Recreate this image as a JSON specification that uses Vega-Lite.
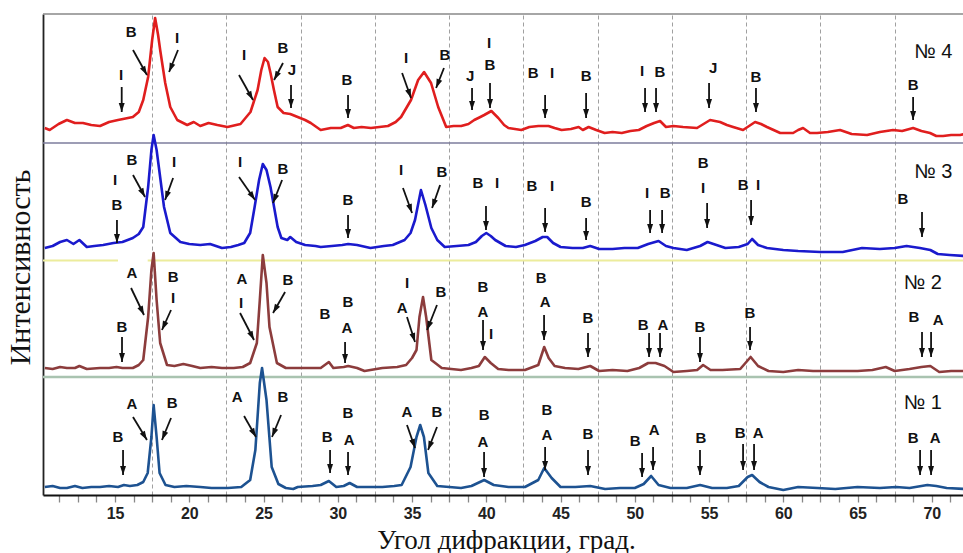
{
  "$schema": "https://vega.github.io/schema/vega-lite/v6.json",
  "width": 920,
  "height": 481,
  "autosize": {"type": "none"},
  "padding": {"left": 43, "top": 14, "right": 0, "bottom": 58},
  "background": "white",
  "config": {"view": {"stroke": null}},
  "resolve": {"axis": {"x": "independent"}},
  "datasets": {
    "c4": [{"x":10.27,"y":367},{"x":10.6,"y":365},{"x":11.2,"y":371},{"x":11.76,"y":375},{"x":12.3,"y":372},{"x":12.84,"y":372},{"x":13.4,"y":370},{"x":13.99,"y":369},{"x":14.6,"y":373},{"x":15.2,"y":375},{"x":15.54,"y":376},{"x":16.2,"y":378},{"x":16.6,"y":383},{"x":16.9,"y":395},{"x":17.23,"y":418},{"x":17.5,"y":455},{"x":17.7,"y":477},{"x":17.9,"y":460},{"x":18.04,"y":445},{"x":18.38,"y":412},{"x":18.72,"y":388},{"x":19.19,"y":375},{"x":19.86,"y":370},{"x":20.3,"y":373},{"x":20.74,"y":369},{"x":21.3,"y":372},{"x":21.89,"y":370},{"x":22.57,"y":368},{"x":23.45,"y":371},{"x":24.12,"y":383},{"x":24.6,"y":405},{"x":24.85,"y":425},{"x":25.07,"y":437},{"x":25.3,"y":433},{"x":25.47,"y":422},{"x":25.7,"y":405},{"x":25.95,"y":388},{"x":26.35,"y":382},{"x":26.8,"y":381},{"x":27.3,"y":378},{"x":27.8,"y":375},{"x":28.18,"y":372},{"x":28.85,"y":365},{"x":29.53,"y":367},{"x":30.2,"y":367},{"x":30.68,"y":370},{"x":31.08,"y":367},{"x":31.6,"y":368},{"x":32.23,"y":367},{"x":32.8,"y":368},{"x":33.38,"y":369},{"x":33.9,"y":373},{"x":34.26,"y":378},{"x":34.93,"y":395},{"x":35.41,"y":415},{"x":35.81,"y":423},{"x":36.28,"y":412},{"x":36.76,"y":388},{"x":37.3,"y":368},{"x":37.8,"y":369},{"x":38.31,"y":369},{"x":38.8,"y":371},{"x":39.19,"y":375},{"x":39.6,"y":378},{"x":39.86,"y":380},{"x":40.34,"y":384},{"x":40.81,"y":377},{"x":41.2,"y":370},{"x":41.49,"y":367},{"x":42.36,"y":365},{"x":42.9,"y":368},{"x":43.51,"y":369},{"x":44.19,"y":369},{"x":44.6,"y":367},{"x":45.07,"y":365},{"x":45.7,"y":366},{"x":46.22,"y":368},{"x":46.5,"y":365},{"x":46.89,"y":368},{"x":47.4,"y":365},{"x":47.97,"y":362},{"x":48.5,"y":363},{"x":49.12,"y":362},{"x":49.7,"y":364},{"x":50.27,"y":365},{"x":50.8,"y":369},{"x":51.3,"y":372},{"x":51.7,"y":374},{"x":52.1,"y":368},{"x":52.6,"y":369},{"x":53.25,"y":368},{"x":54.19,"y":367},{"x":55.07,"y":375},{"x":55.4,"y":374},{"x":55.74,"y":373},{"x":56.2,"y":370},{"x":56.62,"y":368},{"x":57.29,"y":365},{"x":58.1,"y":373},{"x":58.5,"y":371},{"x":58.9,"y":368},{"x":59.79,"y":362},{"x":60.66,"y":362},{"x":61.0,"y":365},{"x":61.33,"y":367},{"x":61.8,"y":362},{"x":62.27,"y":362},{"x":63.0,"y":363},{"x":63.82,"y":365},{"x":64.6,"y":361},{"x":65.64,"y":360},{"x":66.5,"y":363},{"x":67.39,"y":365},{"x":68.0,"y":364},{"x":68.74,"y":367},{"x":69.3,"y":364},{"x":69.88,"y":362},{"x":70.3,"y":359},{"x":70.76,"y":359},{"x":71.3,"y":360},{"x":71.9,"y":360},{"x":72.2,"y":361}],
    "c3": [{"x":10.27,"y":247},{"x":10.8,"y":249},{"x":11.3,"y":253},{"x":11.76,"y":255},{"x":12.2,"y":251},{"x":12.6,"y":255},{"x":13.1,"y":248},{"x":13.6,"y":249},{"x":14.2,"y":250},{"x":14.9,"y":252},{"x":15.5,"y":253},{"x":16.2,"y":257},{"x":16.6,"y":261},{"x":16.9,"y":268},{"x":17.23,"y":308},{"x":17.45,"y":345},{"x":17.6,"y":360},{"x":17.8,"y":345},{"x":17.95,"y":328},{"x":18.3,"y":288},{"x":18.72,"y":262},{"x":19.4,"y":253},{"x":20.0,"y":251},{"x":20.74,"y":250},{"x":21.4,"y":251},{"x":22.2,"y":247},{"x":22.8,"y":248},{"x":23.3,"y":250},{"x":23.7,"y":252},{"x":24.1,"y":262},{"x":24.4,"y":288},{"x":24.7,"y":315},{"x":24.95,"y":331},{"x":25.2,"y":325},{"x":25.47,"y":308},{"x":25.95,"y":268},{"x":26.2,"y":257},{"x":26.6,"y":255},{"x":26.8,"y":258},{"x":27.2,"y":253},{"x":27.8,"y":250},{"x":28.5,"y":249},{"x":28.85,"y":248},{"x":29.6,"y":249},{"x":30.3,"y":250},{"x":30.7,"y":251},{"x":31.3,"y":250},{"x":32.2,"y":247},{"x":33.1,"y":249},{"x":33.7,"y":250},{"x":34.5,"y":255},{"x":34.9,"y":262},{"x":35.2,"y":275},{"x":35.6,"y":305},{"x":35.9,"y":290},{"x":36.3,"y":267},{"x":36.7,"y":255},{"x":37.2,"y":248},{"x":38.0,"y":249},{"x":38.8,"y":250},{"x":39.3,"y":253},{"x":39.7,"y":259},{"x":40.0,"y":262},{"x":40.3,"y":259},{"x":40.6,"y":255},{"x":41.3,"y":249},{"x":42.0,"y":248},{"x":42.6,"y":250},{"x":43.3,"y":254},{"x":43.8,"y":258},{"x":44.1,"y":258},{"x":44.5,"y":252},{"x":45.0,"y":248},{"x":45.8,"y":247},{"x":46.5,"y":247},{"x":47.0,"y":249},{"x":47.6,"y":246},{"x":48.5,"y":246},{"x":49.3,"y":247},{"x":50.2,"y":247},{"x":50.9,"y":251},{"x":51.6,"y":254},{"x":52.1,"y":249},{"x":52.6,"y":247},{"x":53.5,"y":245},{"x":54.4,"y":249},{"x":54.9,"y":253},{"x":55.5,"y":250},{"x":56.1,"y":247},{"x":57.0,"y":248},{"x":57.6,"y":251},{"x":57.9,"y":256},{"x":58.3,"y":250},{"x":58.9,"y":247},{"x":60.0,"y":245},{"x":61.0,"y":244},{"x":62.5,"y":243},{"x":64.0,"y":243},{"x":65.3,"y":247},{"x":66.5,"y":246},{"x":67.5,"y":247},{"x":68.3,"y":249},{"x":69.2,"y":247},{"x":69.9,"y":245},{"x":70.4,"y":241},{"x":71.2,"y":240},{"x":72.2,"y":239}],
    "c2": [{"x":10.27,"y":127},{"x":10.8,"y":126},{"x":11.3,"y":128},{"x":11.76,"y":127},{"x":12.3,"y":127},{"x":12.6,"y":129},{"x":13.1,"y":126},{"x":13.99,"y":127},{"x":14.6,"y":127},{"x":15.1,"y":128},{"x":15.5,"y":127},{"x":16.2,"y":127},{"x":16.6,"y":130},{"x":16.9,"y":135},{"x":17.23,"y":178},{"x":17.45,"y":225},{"x":17.6,"y":242},{"x":17.8,"y":195},{"x":18.04,"y":152},{"x":18.5,"y":130},{"x":19.0,"y":129},{"x":19.6,"y":131},{"x":20.2,"y":129},{"x":20.74,"y":127},{"x":21.5,"y":128},{"x":22.2,"y":127},{"x":23.0,"y":127},{"x":23.6,"y":128},{"x":24.1,"y":132},{"x":24.55,"y":152},{"x":24.75,"y":195},{"x":24.95,"y":240},{"x":25.2,"y":212},{"x":25.4,"y":168},{"x":25.9,"y":132},{"x":26.5,"y":127},{"x":27.3,"y":127},{"x":28.2,"y":127},{"x":28.85,"y":127},{"x":29.4,"y":133},{"x":29.7,"y":127},{"x":30.4,"y":128},{"x":30.7,"y":129},{"x":31.3,"y":127},{"x":31.8,"y":124},{"x":33.0,"y":127},{"x":34.0,"y":128},{"x":34.6,"y":130},{"x":35.0,"y":137},{"x":35.3,"y":145},{"x":35.5,"y":178},{"x":35.74,"y":198},{"x":35.95,"y":178},{"x":36.3,"y":135},{"x":37.0,"y":127},{"x":38.3,"y":125},{"x":39.0,"y":127},{"x":39.5,"y":129},{"x":39.9,"y":138},{"x":40.3,"y":132},{"x":40.8,"y":126},{"x":41.5,"y":125},{"x":42.6,"y":125},{"x":43.5,"y":130},{"x":43.9,"y":148},{"x":44.2,"y":137},{"x":44.6,"y":129},{"x":45.3,"y":127},{"x":46.2,"y":126},{"x":47.0,"y":129},{"x":47.6,"y":124},{"x":48.5,"y":125},{"x":49.5,"y":124},{"x":50.3,"y":127},{"x":50.9,"y":132},{"x":51.4,"y":132},{"x":52.0,"y":129},{"x":52.6,"y":123},{"x":53.5,"y":124},{"x":54.2,"y":125},{"x":54.6,"y":130},{"x":55.1,"y":125},{"x":55.9,"y":125},{"x":57.1,"y":126},{"x":57.8,"y":138},{"x":58.3,"y":129},{"x":59.0,"y":124},{"x":60.0,"y":123},{"x":61.0,"y":125},{"x":62.0,"y":124},{"x":63.0,"y":124},{"x":64.0,"y":124},{"x":65.0,"y":124},{"x":66.0,"y":125},{"x":66.9,"y":128},{"x":67.5,"y":124},{"x":68.5,"y":126},{"x":69.3,"y":128},{"x":69.9,"y":129},{"x":70.5,"y":123},{"x":71.3,"y":124},{"x":72.2,"y":124}],
    "c1": [{"x":10.27,"y":8},{"x":10.8,"y":9},{"x":11.3,"y":7},{"x":11.76,"y":7},{"x":12.3,"y":9},{"x":12.8,"y":7},{"x":13.4,"y":8},{"x":13.99,"y":8},{"x":14.6,"y":9},{"x":15.2,"y":8},{"x":15.6,"y":10},{"x":16.0,"y":9},{"x":16.5,"y":10},{"x":16.9,"y":13},{"x":17.2,"y":22},{"x":17.45,"y":58},{"x":17.6,"y":90},{"x":17.8,"y":58},{"x":18.0,"y":22},{"x":18.4,"y":10},{"x":19.0,"y":8},{"x":19.8,"y":9},{"x":20.74,"y":8},{"x":21.5,"y":7},{"x":22.6,"y":7},{"x":23.5,"y":8},{"x":24.1,"y":15},{"x":24.45,"y":45},{"x":24.75,"y":112},{"x":24.9,"y":127},{"x":25.2,"y":95},{"x":25.55,"y":28},{"x":26.0,"y":11},{"x":26.5,"y":7},{"x":27.0,"y":6},{"x":27.3,"y":8},{"x":28.3,"y":9},{"x":28.85,"y":10},{"x":29.4,"y":14},{"x":29.9,"y":8},{"x":30.4,"y":9},{"x":30.8,"y":12},{"x":31.3,"y":8},{"x":32.2,"y":8},{"x":33.0,"y":8},{"x":33.8,"y":9},{"x":34.3,"y":10},{"x":34.9,"y":28},{"x":35.3,"y":58},{"x":35.55,"y":70},{"x":35.8,"y":58},{"x":36.1,"y":22},{"x":36.7,"y":9},{"x":37.5,"y":8},{"x":38.3,"y":7},{"x":39.0,"y":9},{"x":39.86,"y":15},{"x":40.5,"y":10},{"x":41.5,"y":8},{"x":42.6,"y":8},{"x":43.5,"y":15},{"x":43.9,"y":27},{"x":44.4,"y":17},{"x":45.0,"y":8},{"x":46.0,"y":8},{"x":47.0,"y":9},{"x":48.0,"y":6},{"x":49.0,"y":7},{"x":50.0,"y":7},{"x":50.6,"y":11},{"x":51.1,"y":19},{"x":51.6,"y":10},{"x":52.4,"y":7},{"x":53.5,"y":7},{"x":54.4,"y":10},{"x":55.2,"y":7},{"x":56.2,"y":7},{"x":57.0,"y":9},{"x":57.6,"y":18},{"x":57.9,"y":20},{"x":58.4,"y":13},{"x":59.0,"y":8},{"x":60.0,"y":5},{"x":61.0,"y":8},{"x":62.3,"y":7},{"x":63.5,"y":6},{"x":65.0,"y":8},{"x":66.5,"y":7},{"x":67.6,"y":8},{"x":68.5,"y":7},{"x":69.7,"y":10},{"x":70.3,"y":9},{"x":71.0,"y":7},{"x":72.2,"y":6}],
    "labels": [
      {"x":15.4,"y":420,"t":"I"},{"x":16.08,"y":463,"t":"B"},{"x":19.18,"y":457,"t":"I"},{"x":23.69,"y":440,"t":"I"},{"x":26.31,"y":447,"t":"B"},{"x":26.92,"y":425,"t":"J"},{"x":30.62,"y":415,"t":"B"},{"x":34.6,"y":437,"t":"I"},{"x":37.22,"y":440,"t":"B"},{"x":38.91,"y":419,"t":"J"},{"x":40.19,"y":452,"t":"I"},{"x":40.25,"y":430,"t":"B"},{"x":43.15,"y":422,"t":"B"},{"x":44.43,"y":422,"t":"I"},{"x":46.72,"y":419,"t":"B"},{"x":50.49,"y":424,"t":"I"},{"x":51.7,"y":423,"t":"B"},{"x":55.27,"y":427,"t":"J"},{"x":58.16,"y":418,"t":"B"},{"x":68.74,"y":410,"t":"B"},
      {"x":15.0,"y":315,"t":"I"},{"x":15.13,"y":290,"t":"B"},{"x":16.14,"y":335,"t":"B"},{"x":18.97,"y":333,"t":"I"},{"x":23.42,"y":333,"t":"I"},{"x":26.31,"y":326,"t":"B"},{"x":30.69,"y":295,"t":"B"},{"x":34.26,"y":325,"t":"I"},{"x":37.02,"y":323,"t":"B"},{"x":39.44,"y":312,"t":"B"},{"x":40.72,"y":312,"t":"I"},{"x":43.08,"y":309,"t":"B"},{"x":44.43,"y":309,"t":"I"},{"x":46.72,"y":293,"t":"B"},{"x":50.82,"y":302,"t":"I"},{"x":52.04,"y":302,"t":"B"},{"x":54.6,"y":332,"t":"B"},{"x":54.6,"y":307,"t":"I"},{"x":57.29,"y":310,"t":"B"},{"x":58.3,"y":310,"t":"I"},{"x":68.06,"y":296,"t":"B"},
      {"x":15.47,"y":168,"t":"B"},{"x":16.14,"y":222,"t":"A"},{"x":18.91,"y":218,"t":"B"},{"x":18.91,"y":197,"t":"I"},{"x":23.55,"y":216,"t":"A"},{"x":23.48,"y":192,"t":"I"},{"x":26.65,"y":215,"t":"B"},{"x":29.14,"y":181,"t":"B"},{"x":30.69,"y":193,"t":"B"},{"x":30.62,"y":167,"t":"A"},{"x":34.66,"y":212,"t":"I"},{"x":34.33,"y":187,"t":"A"},{"x":36.95,"y":203,"t":"B"},{"x":39.78,"y":208,"t":"B"},{"x":39.78,"y":183,"t":"A"},{"x":40.32,"y":161,"t":"I"},{"x":43.69,"y":217,"t":"B"},{"x":43.96,"y":193,"t":"A"},{"x":46.85,"y":177,"t":"B"},{"x":50.56,"y":170,"t":"B"},{"x":51.9,"y":170,"t":"A"},{"x":54.39,"y":168,"t":"B"},{"x":57.76,"y":182,"t":"B"},{"x":68.8,"y":178,"t":"B"},{"x":70.42,"y":175,"t":"A"},
      {"x":15.2,"y":58,"t":"B"},{"x":16.14,"y":91,"t":"A"},{"x":18.84,"y":92,"t":"B"},{"x":23.22,"y":98,"t":"A"},{"x":26.31,"y":98,"t":"B"},{"x":29.28,"y":58,"t":"B"},{"x":30.69,"y":82,"t":"B"},{"x":30.76,"y":55,"t":"A"},{"x":34.66,"y":83,"t":"A"},{"x":36.68,"y":83,"t":"B"},{"x":39.85,"y":80,"t":"B"},{"x":39.78,"y":53,"t":"A"},{"x":44.09,"y":85,"t":"B"},{"x":44.09,"y":60,"t":"A"},{"x":46.85,"y":61,"t":"B"},{"x":50.02,"y":54,"t":"B"},{"x":51.3,"y":65,"t":"A"},{"x":54.46,"y":57,"t":"B"},{"x":57.09,"y":62,"t":"B"},{"x":58.3,"y":62,"t":"A"},{"x":68.74,"y":57,"t":"B"},{"x":70.22,"y":57,"t":"A"}
    ],
    "tags": [
      {"x":70.1,"y":443,"t":"№ 4"},{"x":70.1,"y":323,"t":"№ 3"},{"x":69.4,"y":212,"t":"№ 2"},{"x":69.4,"y":92,"t":"№ 1"}
    ],
    "arrows": [
      {"x":15.45,"y":408,"x2":15.45,"y2":383},{"x":16.21,"y":445,"x2":17.15,"y2":420},{"x":19.24,"y":445,"x2":18.64,"y2":423},{"x":23.35,"y":420,"x2":24.29,"y2":395},{"x":26.31,"y":432,"x2":25.71,"y2":415},{"x":26.85,"y":410,"x2":26.85,"y2":387},{"x":30.69,"y":400,"x2":30.69,"y2":377},{"x":34.33,"y":422,"x2":34.93,"y2":397},{"x":37.15,"y":427,"x2":36.62,"y2":407},{"x":39.04,"y":407,"x2":39.04,"y2":385},{"x":40.25,"y":412,"x2":40.25,"y2":387},{"x":43.96,"y":400,"x2":43.96,"y2":377},{"x":46.72,"y":402,"x2":46.72,"y2":377},{"x":50.69,"y":407,"x2":50.69,"y2":383},{"x":51.43,"y":407,"x2":51.43,"y2":383},{"x":55.0,"y":412,"x2":55.0,"y2":387},{"x":58.16,"y":407,"x2":58.16,"y2":383},{"x":68.74,"y":398,"x2":68.74,"y2":375},
      {"x":15.13,"y":275,"x2":15.13,"y2":252},{"x":16.21,"y":320,"x2":17.02,"y2":298},{"x":18.91,"y":317,"x2":18.37,"y2":295},{"x":23.35,"y":318,"x2":24.43,"y2":295},{"x":26.25,"y":315,"x2":25.64,"y2":292},{"x":30.69,"y":280,"x2":30.69,"y2":257},{"x":34.39,"y":307,"x2":35.0,"y2":282},{"x":36.89,"y":310,"x2":36.35,"y2":287},{"x":39.98,"y":289,"x2":39.98,"y2":265},{"x":43.96,"y":287,"x2":43.96,"y2":263},{"x":46.72,"y":277,"x2":46.72,"y2":255},{"x":51.03,"y":285,"x2":51.03,"y2":262},{"x":51.84,"y":285,"x2":51.84,"y2":262},{"x":54.87,"y":292,"x2":54.87,"y2":267},{"x":57.83,"y":295,"x2":57.83,"y2":270},{"x":69.34,"y":283,"x2":69.34,"y2":258},
      {"x":15.47,"y":158,"x2":15.47,"y2":133},{"x":16.08,"y":207,"x2":16.95,"y2":180},{"x":18.77,"y":185,"x2":18.16,"y2":165},{"x":23.42,"y":182,"x2":24.36,"y2":155},{"x":26.45,"y":203,"x2":25.64,"y2":182},{"x":30.49,"y":153,"x2":30.49,"y2":132},{"x":34.66,"y":178,"x2":35.2,"y2":153},{"x":36.68,"y":190,"x2":36.01,"y2":165},{"x":39.78,"y":175,"x2":39.78,"y2":145},{"x":43.89,"y":180,"x2":43.89,"y2":155},{"x":46.85,"y":162,"x2":46.85,"y2":138},{"x":50.96,"y":162,"x2":50.96,"y2":138},{"x":51.7,"y":162,"x2":51.7,"y2":138},{"x":54.39,"y":158,"x2":54.39,"y2":133},{"x":57.76,"y":168,"x2":57.76,"y2":145},{"x":69.34,"y":163,"x2":69.34,"y2":138},{"x":69.95,"y":163,"x2":69.95,"y2":138},
      {"x":15.54,"y":45,"x2":15.54,"y2":20},{"x":16.21,"y":78,"x2":17.15,"y2":55},{"x":18.77,"y":77,"x2":18.16,"y2":55},{"x":23.69,"y":79,"x2":24.49,"y2":58},{"x":26.18,"y":80,"x2":25.57,"y2":58},{"x":29.48,"y":45,"x2":29.48,"y2":22},{"x":30.69,"y":43,"x2":30.69,"y2":20},{"x":34.66,"y":70,"x2":35.2,"y2":47},{"x":36.68,"y":68,"x2":36.08,"y2":45},{"x":39.85,"y":43,"x2":39.85,"y2":18},{"x":43.96,"y":48,"x2":43.96,"y2":25},{"x":46.85,"y":45,"x2":46.85,"y2":20},{"x":50.49,"y":42,"x2":50.49,"y2":18},{"x":51.23,"y":48,"x2":51.23,"y2":25},{"x":54.39,"y":45,"x2":54.39,"y2":20},{"x":57.29,"y":51,"x2":57.29,"y2":25},{"x":58.03,"y":51,"x2":58.03,"y2":25},{"x":69.21,"y":45,"x2":69.21,"y2":20},{"x":69.95,"y":45,"x2":69.95,"y2":20}
    ]
  },
  "layer": [
    {
      "data": {"name": "c1"},
      "mark": {"type": "line", "opacity": 0},
      "encoding": {
        "x": {"field": "x", "type": "quantitative", "scale": {"domain": [10.15, 72.1], "nice": false, "zero": false},
          "axis": {
            "orient": "top", "title": null, "labels": false, "ticks": false, "domain": false,
            "values": [17.5, 22.5, 27.5, 32.5, 37.5, 42.5, 47.5, 52.5, 57.5, 62.5, 67.5],
            "grid": true, "gridColor": "#a0a0a0", "gridDash": [4, 3], "gridWidth": 1
          }},
        "y": {"field": "y", "type": "quantitative", "scale": {"domain": [0, 481], "nice": false, "zero": false},
          "axis": {
            "title": "Интенсивность", "labels": false, "ticks": false, "grid": false,
            "domainColor": "#222", "domainWidth": 1.8,
            "titleFont": "Liberation Serif", "titleFontSize": 30, "titleFontWeight": "normal", "titleColor": "#111",
            "titleAngle": 270, "titleX": -23, "titleY": 253, "titleBaseline": "middle", "titleAlign": "center"
          }}
      }
    },
    {
      "data": {"values": [{}]},
      "mark": {"type": "rule", "color": "#888", "strokeWidth": 1.5},
      "encoding": {"y": {"datum": 481, "type": "quantitative"}}
    },
    {
      "data": {"values": [{}]},
      "mark": {"type": "rule", "color": "#7d7d9c", "strokeWidth": 1.5},
      "encoding": {"y": {"datum": 352, "type": "quantitative"}}
    },
    {
      "data": {"values": [{}]},
      "mark": {"type": "rule", "color": "#ecec9c", "strokeWidth": 2},
      "encoding": {"x": {"datum": 10.15, "type": "quantitative", "axis": null}, "x2": {"datum": 15.2}, "y": {"datum": 234.5, "type": "quantitative"}}
    },
    {
      "data": {"values": [{}]},
      "mark": {"type": "rule", "color": "#ecec9c", "strokeWidth": 2},
      "encoding": {"x": {"datum": 17.2, "type": "quantitative", "axis": null}, "x2": {"datum": 72.1}, "y": {"datum": 234.5, "type": "quantitative"}}
    },
    {
      "data": {"values": [{}]},
      "mark": {"type": "rule", "color": "#a9c3b0", "strokeWidth": 2.5},
      "encoding": {"y": {"datum": 118, "type": "quantitative"}}
    },
    {
      "data": {"name": "c1"},
      "mark": {"type": "line", "color": "#1d5291", "strokeWidth": 2.6, "strokeJoin": "round"},
      "encoding": {
        "x": {"field": "x", "type": "quantitative",
          "axis": {
            "orient": "bottom",
            "title": "Угол дифракции, град.",
            "values": [11.25,12.5,13.75,15,16.25,17.5,18.75,20,21.25,22.5,23.75,25,26.25,27.5,28.75,30,31.25,32.5,33.75,35,36.25,37.5,38.75,40,41.25,42.5,43.75,45,46.25,47.5,48.75,50,51.25,52.5,53.75,55,56.25,57.5,58.75,60,61.25,62.5,63.75,65,66.25,67.5,68.75,70,71.25],
            "labelExpr": "(datum.value % 5 == 0) ? format(datum.value, 'd') : ''",
            "labelFont": "Liberation Sans", "labelFontWeight": "bold", "labelFontSize": 16, "labelColor": "#222",
            "labelPadding": 3, "labelOverlap": false, "labelFlush": false, "labelBound": false,
            "tickSize": 7, "tickColor": "#888", "tickWidth": 1.3, "grid": false,
            "domainColor": "#111", "domainWidth": 2,
            "titleFont": "Liberation Serif", "titleFontSize": 27, "titleFontWeight": "normal", "titleColor": "#111",
            "titleBaseline": "alphabetic", "titleY": 53, "titleX": 463
          }},
        "y": {"field": "y", "type": "quantitative"}
      }
    },
    {
      "data": {"name": "c2"},
      "mark": {"type": "line", "color": "#8c3c3c", "strokeWidth": 2.6, "strokeJoin": "round"},
      "encoding": {"x": {"field": "x", "type": "quantitative", "axis": null}, "y": {"field": "y", "type": "quantitative"}}
    },
    {
      "data": {"name": "c3"},
      "mark": {"type": "line", "color": "#1a1acd", "strokeWidth": 2.6, "strokeJoin": "round"},
      "encoding": {"x": {"field": "x", "type": "quantitative", "axis": null}, "y": {"field": "y", "type": "quantitative"}}
    },
    {
      "data": {"name": "c4"},
      "mark": {"type": "line", "color": "#e01e1e", "strokeWidth": 2.6, "strokeJoin": "round"},
      "encoding": {"x": {"field": "x", "type": "quantitative", "axis": null}, "y": {"field": "y", "type": "quantitative"}}
    },
    {
      "data": {"name": "arrows"},
      "mark": {"type": "rule", "color": "#111", "strokeWidth": 1.8},
      "encoding": {
        "x": {"field": "x", "type": "quantitative", "axis": null}, "y": {"field": "y", "type": "quantitative"},
        "x2": {"field": "x2"}, "y2": {"field": "y2"}
      }
    },
    {
      "data": {"name": "arrows"},
      "transform": [{"calculate": "atan2(-(datum.x2 - datum.x) * 14.85, datum.y - datum.y2) * 180 / PI", "as": "a"}],
      "mark": {"type": "point", "shape": "M0,0L-0.33,-1L0.33,-1Z", "filled": true, "size": 324, "color": "#111", "opacity": 1, "strokeWidth": 0},
      "encoding": {
        "x": {"field": "x2", "type": "quantitative", "axis": null}, "y": {"field": "y2", "type": "quantitative"},
        "angle": {"field": "a", "type": "quantitative", "scale": null}
      }
    },
    {
      "data": {"name": "labels"},
      "mark": {"type": "text", "font": "Liberation Sans", "fontWeight": "bold", "fontSize": 15, "color": "#111", "align": "center", "baseline": "middle"},
      "encoding": {"x": {"field": "x", "type": "quantitative", "axis": null}, "y": {"field": "y", "type": "quantitative"}, "text": {"field": "t"}}
    },
    {
      "data": {"name": "tags"},
      "mark": {"type": "text", "font": "Liberation Sans", "fontSize": 20, "color": "#111", "align": "center", "baseline": "middle"},
      "encoding": {"x": {"field": "x", "type": "quantitative", "axis": null}, "y": {"field": "y", "type": "quantitative"}, "text": {"field": "t"}}
    }
  ]
}
